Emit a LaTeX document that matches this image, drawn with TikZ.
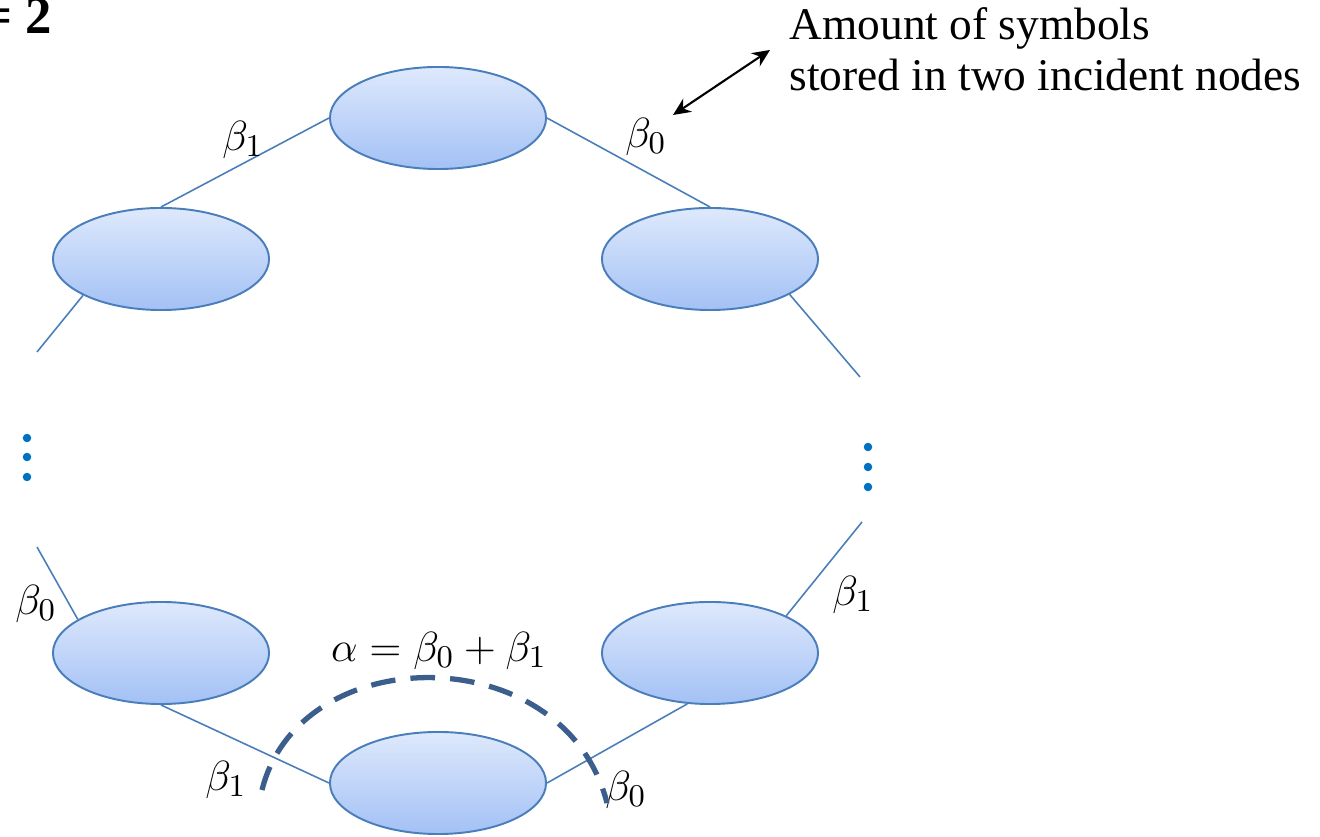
\documentclass[tikz,border=0pt]{standalone}
\usepackage{fontspec}
\setmainfont{Liberation Serif}
\usetikzlibrary{arrows.meta,shapes.geometric}
\definecolor{edgeblue}{HTML}{4A7EBB}
\definecolor{topfill}{HTML}{DEE9FC}
\definecolor{botfill}{HTML}{A3C1F5}
\definecolor{dotblue}{HTML}{0070C0}
\definecolor{arcblue}{HTML}{3C5E8C}
\begin{document}
\begin{tikzpicture}[x=0.01cm,y=-0.01cm,
  nodebox/.style={ellipse, draw=edgeblue, line width=0.55pt, top color=topfill, bottom color=botfill, minimum width=2.16cm, minimum height=1.02cm, inner sep=0pt},
  link/.style={draw=edgeblue, line width=0.45pt},
  lbl/.style={font=\fontsize{12.5}{14}\selectfont, inner sep=0pt},
  vdot/.style={circle, fill=dotblue, minimum size=0.085cm, inner sep=0pt},
  arcline/.style={draw=arcblue, line width=1.5pt, dash pattern=on 7pt off 4.3pt},
  pointer/.style={<->, >={Stealth[length=5pt,width=4.5pt]}, line width=0.6pt, black}]
\useasboundingbox (0,0) rectangle (1320,837);

% nodes
\node[nodebox] (top) at (438,118) {};
\node[nodebox] (lu) at (161,259) {};
\node[nodebox] (ru) at (710,259) {};
\node[nodebox] (ll) at (161,653) {};
\node[nodebox] (rl) at (710,653) {};
\node[nodebox] (bot) at (438,783) {};

% free ends
\coordinate (c1) at (37,352);
\coordinate (c2) at (860,377);
\coordinate (c3) at (37,547);
\coordinate (c4) at (862,522);

% edges
\draw[link] (top.west) -- (lu.north);
\draw[link] (top.east) -- (ru.north);
\draw[link] (lu.205) -- (c1);
\draw[link] (ru.336) -- (c2);
\draw[link] (c3) -- (ll.158);
\draw[link] (c4) -- (rl.26);
\draw[link] (ll.south) -- (bot.west);
\draw[link] (bot.east) -- (rl.246);

% dots
\node[vdot] (dl1) at (27,438) {};
\node[vdot] (dl2) at (27,457) {};
\node[vdot] (dl3) at (27,477) {};
\node[vdot] (dr1) at (868,447) {};
\node[vdot] (dr2) at (868,467) {};
\node[vdot] (dr3) at (868,487) {};

% labels
\node[lbl] (b1a) at (243,140) {$\beta_1$};
\node[lbl] (b0a) at (646,137) {$\beta_0$};
\node[lbl] (b0b) at (36,604) {$\beta_0$};
\node[lbl] (b1b) at (853,595) {$\beta_1$};
\node[lbl] (b1c) at (226,780) {$\beta_1$};
\node[lbl] (b0c) at (626,790) {$\beta_0$};
\node[lbl] (alpha) at (439,651) {$\alpha=\beta_0+\beta_1$};

% dashed arc
\coordinate (a1) at (262,790);
\coordinate (a2) at (607,803);
\coordinate (ac1) at (300,638);
\coordinate (ac2) at (565,638);
\draw[arcline] (a1) .. controls (ac1) and (ac2) .. (a2);

% annotation
\node[lbl, anchor=north west, align=left, font=\fontsize{12.9}{14.4}\selectfont] (note) at (789,7) {Amount of symbols\\stored in two incident nodes};
\coordinate (p1) at (673,115);
\coordinate (p2) at (770,50);
\draw[pointer] (p1) -- (p2);

% top-left cut-off label
\node[lbl, anchor=base east, font=\bfseries\fontsize{15}{17}\selectfont] (dlabel) at (53,34) {= 2};
\end{tikzpicture}
\end{document}
